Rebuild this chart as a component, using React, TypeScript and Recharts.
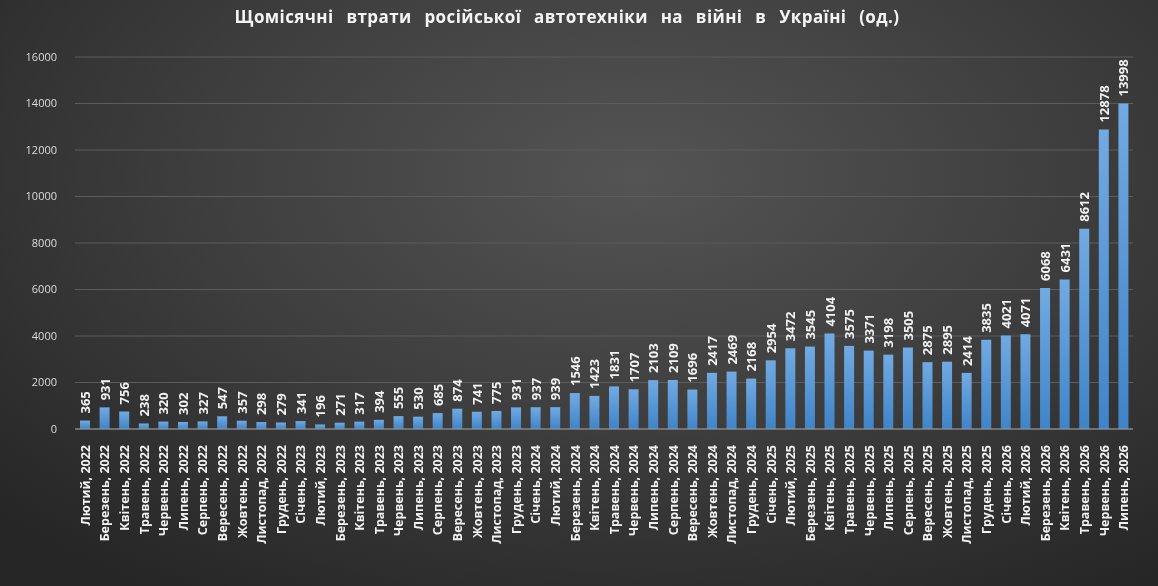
import React from "react";
import { BarChart, Bar, XAxis, YAxis, CartesianGrid, LabelList } from "recharts";

const months = [
  "Лютий, 2022", "Березень, 2022", "Квітень, 2022", "Травень, 2022", "Червень, 2022",
  "Липень, 2022", "Серпень, 2022", "Вересень, 2022", "Жовтень, 2022", "Листопад, 2022",
  "Грудень, 2022", "Січень, 2023", "Лютий, 2023", "Березень, 2023", "Квітень, 2023",
  "Травень, 2023", "Червень, 2023", "Липень, 2023", "Серпень, 2023", "Вересень, 2023",
  "Жовтень, 2023", "Листопад, 2023", "Грудень, 2023", "Січень, 2024", "Лютий, 2024",
  "Березень, 2024", "Квітень, 2024", "Травень, 2024", "Червень, 2024", "Липень, 2024",
  "Серпень, 2024", "Вересень, 2024", "Жовтень, 2024", "Листопад, 2024", "Грудень, 2024",
  "Січень, 2025", "Лютий, 2025", "Березень, 2025", "Квітень, 2025", "Травень, 2025",
  "Червень, 2025", "Липень, 2025", "Серпень, 2025", "Вересень, 2025", "Жовтень, 2025",
  "Листопад, 2025", "Грудень, 2025", "Січень, 2026", "Лютий, 2026", "Березень, 2026",
  "Квітень, 2026", "Травень, 2026", "Червень, 2026", "Липень, 2026",
];

const losses = [
  365, 931, 756, 238, 320, 302, 327, 547, 357, 298, 279,
  341, 196, 271, 317, 394, 555, 530, 685, 874, 741, 775, 931,
  937, 939, 1546, 1423, 1831, 1707, 2103, 2109, 1696, 2417, 2469, 2168,
  2954, 3472, 3545, 4104, 3575, 3371, 3198, 3505, 2875, 2895, 2414, 3835,
  4021, 4071, 6068, 6431, 8612, 12878, 13998,
];

const yTicks = [0, 2000, 4000, 6000, 8000, 10000, 12000, 14000, 16000];

const data = months.map((m, i) => ({ month: m, value: losses[i] }));

const FONT = "'Open Sans', 'DejaVu Sans', sans-serif";

const MonthTick = (props: any) => {
  const { x, y, payload } = props;
  return (
    <text
      x={x + 5}
      y={y + 8}
      transform={`rotate(-90, ${x + 5}, ${y + 8})`}
      textAnchor="end"
      fill="#f2f2f2"
      fontSize={12.5}
      fontWeight={700}
      fontFamily={FONT}
    >
      {payload.value}
    </text>
  );
};

const ValueLabel = (props: any) => {
  const { x, y, width, value } = props;
  const cx = x + width / 2 + 5;
  const cy = y - 7;
  return (
    <text
      x={cx}
      y={cy}
      transform={`rotate(-90, ${cx}, ${cy})`}
      textAnchor="start"
      fill="#f2f2f2"
      fontSize={13}
      fontWeight={700}
      fontFamily={FONT}
    >
      {value}
    </text>
  );
};

const App: React.FC = () => {
  return (
    <div
      style={{
        position: "fixed",
        top: 0,
        left: 0,
        width: 1158,
        height: 586,
        background:
          "radial-gradient(ellipse 75% 85% at 55% 30%, #545454 0%, #3e3e3e 50%, #262626 100%)",
        fontFamily: FONT,
      }}
    >
      <div
        style={{
          position: "absolute",
          top: 5,
          left: 0,
          width: 1134,
          textAlign: "center",
          color: "#f4f4f4",
          fontSize: 17,
          fontWeight: 700,
          wordSpacing: 8,
          letterSpacing: 0.4,
        }}
      >
        Щомісячні втрати російської автотехніки на війні в Україні (од.)
      </div>
      <BarChart
        width={1158}
        height={586}
        data={data}
        margin={{ top: 57, right: 25, left: 0, bottom: 0 }}
        barSize={10}
      >
        <defs>
          <linearGradient id="barFill" x1="0" y1="0" x2="0" y2="1">
            <stop offset="0%" stopColor="#72aae2" />
            <stop offset="100%" stopColor="#3f84c8" />
          </linearGradient>
        </defs>
        <CartesianGrid vertical={false} stroke="#5c5c5c" strokeWidth={1} />
        <XAxis
          dataKey="month"
          interval={0}
          height={157}
          tick={<MonthTick />}
          tickLine={false}
          axisLine={{ stroke: "#9a9a9a" }}
        />
        <YAxis
          width={75}
          domain={[0, 16000]}
          ticks={yTicks}
          tickLine={false}
          axisLine={false}
          tickMargin={12}
          tick={{ fill: "#dcdcdc", fontSize: 11, fontFamily: FONT }}
        />
        <Bar dataKey="value" fill="url(#barFill)" isAnimationActive={false}>
          <LabelList dataKey="value" content={<ValueLabel />} />
        </Bar>
      </BarChart>
    </div>
  );
};

export default App;
